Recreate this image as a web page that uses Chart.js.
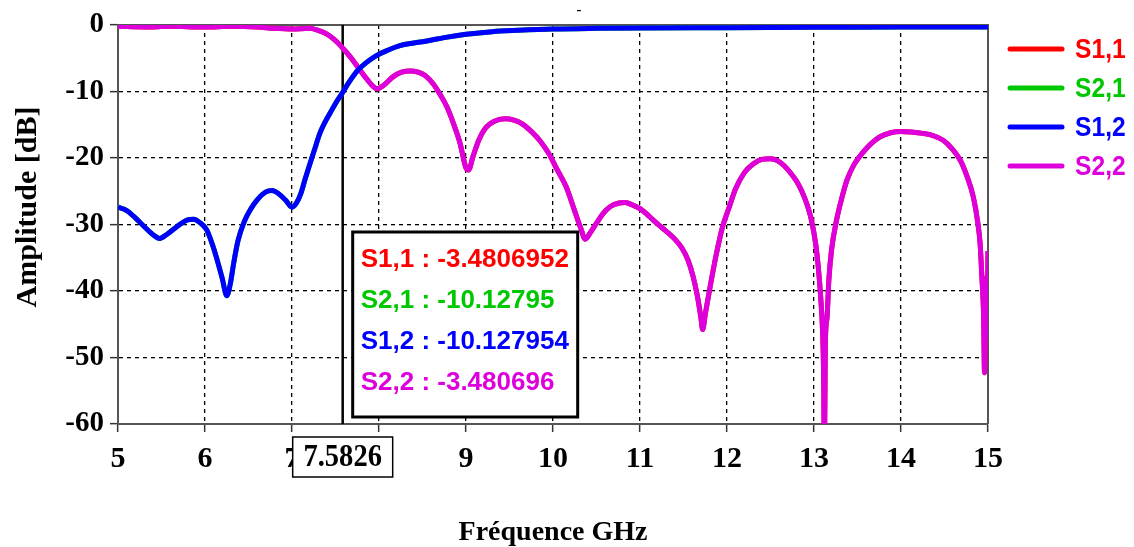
<!DOCTYPE html>
<html><head><meta charset="utf-8">
<script src="https://cdn.jsdelivr.net/npm/chart.js@4/dist/chart.umd.min.js"></script>
<style>html,body{margin:0;padding:0;background:#fff;overflow:hidden}</style>
</head><body>
<canvas id="c" width="1134" height="547" style="width:1134px;height:547px;display:block"></canvas>
<script>
// ---- data ----
const seriesLabels = ['S1,1', 'S2,1', 'S1,2', 'S2,2'];
const seriesColors = ['#ff0000', '#00c800', '#0000ff', '#dd00dd'];
const xTickValues = [5, 6, 7, 8, 9, 10, 11, 12, 13, 14, 15];
const yTickValues = [0, -10, -20, -30, -40, -50, -60];
const xTitle = 'Fréquence GHz';
const yTitle = 'Amplitude [dB]';
const markerFreq = 7.5826;
const markerLabel = '7.5826';
const markerReadouts = ['-3.4806952', '-10.12795', '-10.127954', '-3.480696'];

const freqS12 = [5.0, 5.1, 5.2, 5.3, 5.4, 5.48, 5.56, 5.68, 5.8, 5.87, 5.95, 6.02, 6.09, 6.15, 6.2, 6.25, 6.29, 6.33, 6.38, 6.45, 6.52, 6.6, 6.7, 6.77, 6.85, 6.93, 7.0, 7.05, 7.1, 7.15, 7.21, 7.27, 7.32, 7.38, 7.44, 7.5, 7.5826, 7.65, 7.75, 7.85, 7.97, 8.1, 8.24, 8.4, 8.55, 8.75, 9.0, 9.3, 9.6, 10.0, 10.5, 11.0, 12.0, 13.0, 14.0, 15.0];
const dbS12 = [-27.4, -27.9, -29.0, -30.3, -31.5, -32.1, -31.5, -30.3, -29.3, -29.2, -29.8, -30.8, -33.2, -35.8, -38.2, -40.7, -39.0, -35.8, -32.4, -29.6, -27.8, -26.3, -25.1, -24.9, -25.4, -26.4, -27.4, -26.8, -25.4, -23.2, -20.7, -18.3, -16.3, -14.6, -13.2, -11.8, -10.13, -8.7, -6.9, -5.7, -4.6, -3.8, -3.1, -2.7, -2.4, -1.9, -1.4, -1.0, -0.8, -0.6, -0.5, -0.45, -0.4, -0.35, -0.3, -0.3];

const freqS22 = [5.0, 5.3, 5.6, 6.0, 6.3, 6.6, 6.8, 7.0, 7.2, 7.3, 7.36, 7.45, 7.52, 7.5826, 7.67, 7.75, 7.84, 7.93, 7.98, 8.05, 8.16, 8.26, 8.36, 8.45, 8.53, 8.62, 8.7, 8.78, 8.85, 8.93, 9.0, 9.03, 9.08, 9.15, 9.23, 9.32, 9.45, 9.55, 9.65, 9.75, 9.85, 9.95, 10.05, 10.15, 10.25, 10.32, 10.37, 10.43, 10.5, 10.58, 10.66, 10.75, 10.83, 10.92, 11.0, 11.1, 11.2, 11.3, 11.4, 11.48, 11.55, 11.61, 11.66, 11.7, 11.72, 11.75, 11.8, 11.88, 11.95, 12.02, 12.1, 12.2, 12.3, 12.4, 12.5, 12.58, 12.66, 12.74, 12.8, 12.86, 12.92, 12.97, 13.02, 13.05, 13.08, 13.1, 13.11, 13.12, 13.13, 13.15, 13.17, 13.2, 13.26, 13.32, 13.38, 13.46, 13.56, 13.66, 13.76, 13.88, 14.0, 14.12, 14.25, 14.36, 14.48, 14.58, 14.68, 14.76, 14.83, 14.88, 14.91, 14.93, 14.95, 14.96, 14.97, 14.98, 14.99, 15.0];
const dbS22 = [-0.2, -0.3, -0.2, -0.3, -0.2, -0.3, -0.5, -0.6, -0.5, -0.8, -1.1, -1.8, -2.6, -3.48, -4.8, -6.2, -7.8, -9.2, -9.6, -9.1, -7.8, -7.1, -6.9, -7.1, -7.6, -8.8, -10.4, -12.3, -14.6, -17.7, -21.5, -21.8, -19.8, -17.2, -15.4, -14.5, -14.1, -14.3, -14.9, -16.0, -17.4, -19.3, -21.8, -24.3, -28.0, -30.6, -32.2, -31.2, -29.8, -28.3, -27.3, -26.8, -26.7, -27.1, -27.6, -28.7, -29.9, -31.0, -32.2, -33.5, -35.3, -37.8, -40.8, -44.0, -45.8, -43.5, -39.8, -34.3, -30.3, -27.6, -24.6, -22.2, -20.9, -20.2, -20.1, -20.4, -21.2, -22.4, -23.5, -25.0, -27.0, -29.3, -33.0, -36.5, -41.5, -46.5, -52.0, -65.0, -48.0, -44.0, -38.5, -34.0, -29.3, -26.0, -23.3, -21.0, -19.2, -17.8, -16.8, -16.2, -16.0, -16.1, -16.3, -16.6, -17.3, -18.5, -20.3, -22.8, -25.8, -29.5, -33.0, -38.0, -44.0, -52.3, -46.0, -38.0, -47.0, -34.0];

// S1,1 equals S2,2 and S2,1 equals S1,2 (same marker readouts), so they lie underneath
const freqS11 = freqS22, dbS11 = dbS22;
const freqS21 = freqS12, dbS21 = dbS12;

const toPts = (xs, ys) => xs.map((x, i) => ({x: x, y: ys[i]}));
const seriesData = [toPts(freqS11, dbS11), toPts(freqS21, dbS21), toPts(freqS12, dbS12), toPts(freqS22, dbS22)];
const seriesOrder = [2, 2, 1, 1];

const SERIF = "'Liberation Serif', 'Times New Roman', serif";
const SANS = "'Liberation Sans', Arial, sans-serif";

function squeezedText(ctx, text, x, y, sx) {
  ctx.save();
  ctx.translate(x, y);
  ctx.scale(sx, 1);
  ctx.fillText(text, 0, 0);
  ctx.restore();
}

const framePlugin = {
  id: 'frame',
  beforeDatasetsDraw(chart) {
    const {ctx, chartArea: a, scales} = chart;
    ctx.save();
    ctx.strokeStyle = '#555';
    ctx.lineWidth = 2;
    ctx.beginPath();
    ctx.moveTo(a.left, a.top); ctx.lineTo(a.right, a.top); ctx.lineTo(a.right, a.bottom);
    ctx.stroke();
    // marker line
    const mx = scales.x.getPixelForValue(markerFreq);
    ctx.strokeStyle = '#000';
    ctx.lineWidth = 2.5;
    ctx.beginPath();
    ctx.moveTo(mx, a.top); ctx.lineTo(mx, a.bottom);
    ctx.stroke();
    ctx.restore();
  },
  afterDraw(chart) {
    const {ctx, chartArea: a, scales} = chart;
    const mx = scales.x.getPixelForValue(markerFreq);
    ctx.save();
    // y axis title
    ctx.save();
    ctx.translate(28, 207);
    ctx.rotate(-Math.PI / 2);
    ctx.fillStyle = '#000';
    ctx.font = 'bold 30px ' + SERIF;
    ctx.textAlign = 'center';
    ctx.textBaseline = 'middle';
    ctx.fillText(yTitle, 0, 0);
    ctx.restore();
    // readout box
    const bx = mx + 10, by = a.top + 207, bw = 225, bh = 185;
    ctx.fillStyle = '#fff';
    ctx.fillRect(bx, by, bw, bh);
    ctx.strokeStyle = '#000';
    ctx.lineWidth = 3;
    ctx.strokeRect(bx, by, bw, bh);
    ctx.font = 'bold 26px ' + SANS;
    ctx.textBaseline = 'middle';
    ctx.textAlign = 'left';
    seriesLabels.forEach((lab, i) => {
      ctx.fillStyle = seriesColors[i];
      ctx.fillText(lab + ' : ' + markerReadouts[i], bx + 8, by + 28 + i * 41);
    });
    // marker value box under the axis
    const lw = 100, lh = 40, ly = a.bottom + 13;
    ctx.fillStyle = '#fff';
    ctx.fillRect(mx - lw / 2, ly, lw, lh);
    ctx.strokeStyle = '#000';
    ctx.lineWidth = 1.5;
    ctx.strokeRect(mx - lw / 2, ly, lw, lh);
    ctx.fillStyle = '#000';
    ctx.font = 'bold 31px ' + SERIF;
    ctx.textAlign = 'center';
    squeezedText(ctx, markerLabel, mx, ly + lh / 2 + 1, 0.92);
    // legend
    ctx.textAlign = 'left';
    ctx.font = 'bold 28px ' + SANS;
    ctx.lineCap = 'round';
    seriesLabels.forEach((lab, i) => {
      const y = 49 + i * 39;
      ctx.strokeStyle = seriesColors[i];
      ctx.lineWidth = 5;
      ctx.beginPath();
      ctx.moveTo(a.right + 22, y); ctx.lineTo(a.right + 74, y);
      ctx.stroke();
      ctx.fillStyle = seriesColors[i];
      squeezedText(ctx, lab, a.right + 87, y + 1, 0.88);
    });
    // small dash at top
    ctx.fillStyle = '#000';
    ctx.font = '16px ' + SANS;
    ctx.textAlign = 'center';
    ctx.fillText('-', 579, 11);
    ctx.restore();
  }
};

new Chart(document.getElementById('c'), {
  type: 'line',
  data: {
    datasets: seriesLabels.map((lab, i) => ({
      label: lab,
      data: seriesData[i],
      borderColor: seriesColors[i],
      backgroundColor: seriesColors[i],
      borderWidth: 5,
      pointRadius: 0,
      fill: false,
      cubicInterpolationMode: 'monotone',
      order: seriesOrder[i]
    }))
  },
  options: {
    responsive: false,
    animation: false,
    devicePixelRatio: 1,
    layout: {padding: {top: 25, right: 146, left: 0, bottom: 0}},
    plugins: {legend: {display: false}, tooltip: {enabled: false}},
    scales: {
      x: {
        type: 'linear', min: 5, max: 15,
        afterBuildTicks: s => { s.ticks = xTickValues.map(v => ({value: v})); },
        afterFit: s => { s.height = 123; },
        ticks: {color: '#000', font: {family: SERIF, size: 30, weight: 'bold'}, padding: 9, maxRotation: 0, autoSkip: false},
        grid: {color: '#000', lineWidth: 1.3, tickLength: 8, tickColor: '#333', tickWidth: 1.5, tickBorderDash: []},
        border: {color: '#555', width: 2, dash: [4, 4]},
        title: {display: true, text: xTitle, color: '#000', font: {family: SERIF, size: 28, weight: 'bold', lineHeight: 1}, padding: {top: 0, bottom: 0}}
      },
      y: {
        type: 'linear', min: -60, max: 0,
        afterBuildTicks: s => { s.ticks = yTickValues.map(v => ({value: v})); },
        afterFit: s => { s.width = 118; },
        ticks: {color: '#000', font: {family: SERIF, size: 29, weight: 'bold'}, padding: 6},
        grid: {color: '#000', lineWidth: 1.3, tickLength: 8, tickColor: '#333', tickWidth: 1.5, tickBorderDash: []},
        border: {color: '#555', width: 2, dash: [4, 4]},
        title: {display: false, text: yTitle}
      }
    }
  },
  plugins: [framePlugin]
});
</script>
</body></html>
